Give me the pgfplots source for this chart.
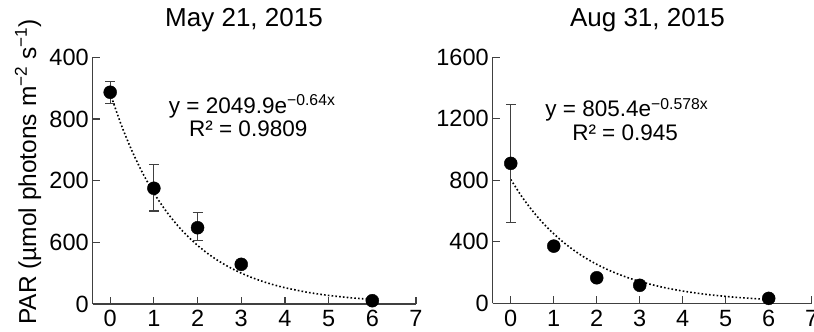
\documentclass[border=0pt]{standalone}
\usepackage{fontspec}
\setmainfont{Liberation Sans}
\usepackage{pgfplots}
\pgfplotsset{compat=1.18}

\pgfplotstableread{
x y ep em
0 2060 103 111
1 1126 233 221
2 742 150 126
3 386 0 0
6 32 0 0
}\maydata
\pgfplotstableread{
x y ep em
0 910 385 386
1 372 0 0
2 166 0 0
3 117 0 0
6 32 0 0
}\augdata

\newcommand{\tl}[1]{\mbox{\fontsize{23.5}{25}\selectfont #1}}

\begin{document}
\begin{tikzpicture}
\pgfplotsset{
  myaxis/.style={
    scale only axis,
    axis x line*=bottom, axis y line*=left,
    axis line style={line width=1.2pt, color=black!75, -},
    tick style={line width=1.2pt, color=black!75},
    tick align=inside,
    major tick length=7pt,
    xtick={0,1,2,3,4,5,6,7},
    xticklabels={\tl{0},\tl{1},\tl{2},\tl{3},\tl{4},\tl{5},\tl{6},\tl{7}},
    xticklabel style={yshift=-3pt},
    yticklabel style={xshift=-0.5pt},
    xmax=7,
    ymin=0,
    tick label style={font=\fontsize{23.5}{25}\selectfont},
    /pgf/number format/assume math mode=true,
    clip=false,
    title style={font=\fontsize{26}{28}\selectfont, anchor=base},
  },
  trend/.style={black, line width=1.6pt, dash pattern=on 1.6pt off 2.2pt, mark=none, smooth},
  pts/.style={only marks, mark=*, mark size=6.5pt, mark options={fill=black, draw=black, solid},
    error bars/.cd, y dir=both, y explicit,
    error bar style={line width=1.1pt, color=black!75},
    error mark options={rotate=90, mark size=5pt, line width=1.1pt, color=black!75}},
}
\begin{axis}[myaxis,
  at={(92.7pt,28pt)}, anchor=south west,
  width=323.3pt, height=246.7pt,
  xmin=-0.4, ymax=2400,
  ytick={0,600,1200,1800,2400},
  yticklabels={\tl{0},\tl{600},\tl{200},\tl{800},\tl{400}},
  title={May 21, 2015},
  title style={at={(axis description cs:0.468,1)}, yshift=24.3pt},
]
\addplot[trend] coordinates {
(0,2049.9) (0.25,1746.8) (0.5,1488.5) (0.75,1268.4) (1,1080.9) (1.25,921.1)
(1.5,784.9) (1.75,668.8) (2,569.9) (2.25,485.7) (2.5,413.9) (2.75,352.7)
(3,300.5) (3.25,256.1) (3.5,218.2) (3.75,186.0) (4,158.5) (4.5,115.1)
(5,83.6) (5.5,60.7) (6,44.1)};
\addplot[pts] table[x=x, y=y, y error plus=ep, y error minus=em] {\maydata};
\node[anchor=base, font=\fontsize{22.5}{24}\selectfont] at (axis cs:3.25,1858) {y = 2049.9e\textsuperscript{−0.64x}};
\node[anchor=base, font=\fontsize{22.5}{24}\selectfont] at (axis cs:3.16,1625) {R² = 0.9809};
\end{axis}

\begin{axis}[myaxis,
  at={(492.7pt,28.7pt)}, anchor=south west,
  width=319pt, height=246pt,
  xmin=-0.42, ymax=1600,
  ytick={0,400,800,1200,1600},
  yticklabels={\tl{0},\tl{400},\tl{800},\tl{1200},\tl{1600}},
  title={Aug 31, 2015},
  title style={at={(axis description cs:0.485,1)}, yshift=24.3pt},
]
\addplot[trend] coordinates {
(0,805.4) (0.25,697.0) (0.5,603.3) (0.75,522.1) (1,451.9) (1.25,391.1)
(1.5,338.4) (1.75,292.9) (2,253.5) (2.25,219.4) (2.5,189.9) (2.75,164.3)
(3,142.2) (3.5,106.5) (4,79.8) (4.5,59.8) (5,44.8) (5.5,33.5) (6,25.1)};
\addplot[pts] table[x=x, y=y, y error plus=ep, y error minus=em] {\augdata};
\node[anchor=base, font=\fontsize{22.5}{24}\selectfont] at (axis cs:2.70,1214) {y = 805.4e\textsuperscript{−0.578x}};
\node[anchor=base, font=\fontsize{22.5}{24}\selectfont] at (axis cs:2.66,1062) {R² = 0.945};
\end{axis}

\node[rotate=90, anchor=base, font=\fontsize{24.5}{26}\selectfont] at (36pt,160pt) {PAR (µmol photons m\textsuperscript{−2} s\textsuperscript{−1})};

\pgfresetboundingbox
\path[use as bounding box] (0,0) rectangle (814pt,332pt);
\end{tikzpicture}
\end{document}
